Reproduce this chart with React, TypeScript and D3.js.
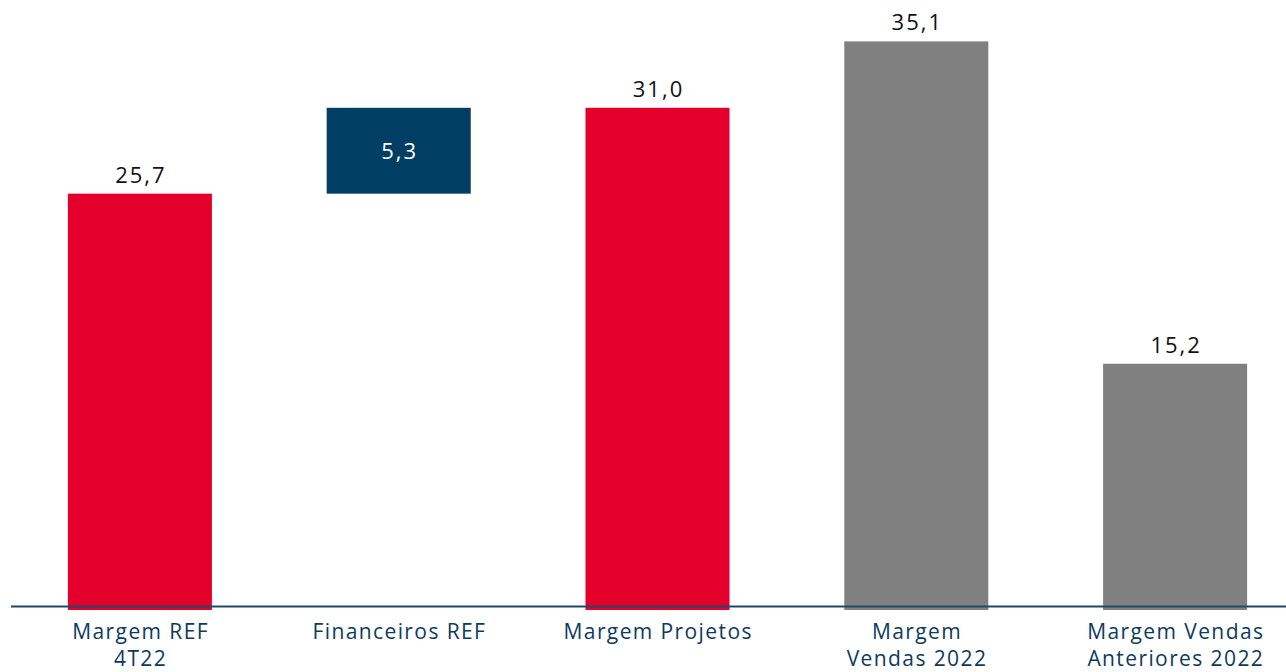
import React from "react";
import * as d3 from "d3";

const categories = [
  ["Margem REF", "4T22"],
  ["Financeiros REF"],
  ["Margem Projetos"],
  ["Margem", "Vendas 2022"],
  ["Margem Vendas", "Anteriores 2022"],
];
const starts = [0, 25.7, 0, 0, 0];
const values = [25.7, 5.3, 31.0, 35.1, 15.2];
const labels = ["25,7", "5,3", "31,0", "35,1", "15,2"];
const colors = ["#e4002b", "#003f63", "#e4002b", "#808080", "#808080"];

const W = 1286;
const H = 672;
const FONT = "'Open Sans', sans-serif";

export default function App() {
  const keys = categories.map((c) => c.join(" "));
  const p = 0.4435;
  const x = d3.scaleBand<string>().domain(keys).range([10.5, 1304.5]).paddingInner(p).paddingOuter(p / 2);
  const y = d3.scaleLinear().domain([0, 35]).range([610, 43]);
  return (
    <svg width={W} height={H} style={{ position: "absolute", left: 0, top: 0, background: "#fff" }}>
      {keys.map((k, i) => {
        const x0 = x(k)!;
        const bw = x.bandwidth();
        const top = y(starts[i] + values[i]);
        const bottom = y(starts[i]);
        const inside = i === 1;
        return (
          <g key={k}>
            <rect x={x0} y={top} width={bw} height={bottom - top} fill={colors[i]} />
            <text
              x={x0 + bw / 2 + 1}
              y={inside ? (top + bottom) / 2 + 8 : top - 11}
              textAnchor="middle"
              fontFamily={FONT}
              fontSize={22}
              letterSpacing={2}
              fill={inside ? "#fff" : "#111"}
            >
              {labels[i]}
            </text>
            {categories[i].map((line, j) => (
              <text
                key={j}
                x={x0 + bw / 2 + 0.7}
                y={639 + j * 27}
                textAnchor="middle"
                fontFamily={FONT}
                fontSize={21}
                letterSpacing={1.4}
                fill="#0d3b5e"
              >
                {line}
              </text>
            ))}
          </g>
        );
      })}
      <line x1={11} x2={W} y1={606.5} y2={606.5} stroke="#1b4a6b" strokeWidth={2} />
    </svg>
  );
}
